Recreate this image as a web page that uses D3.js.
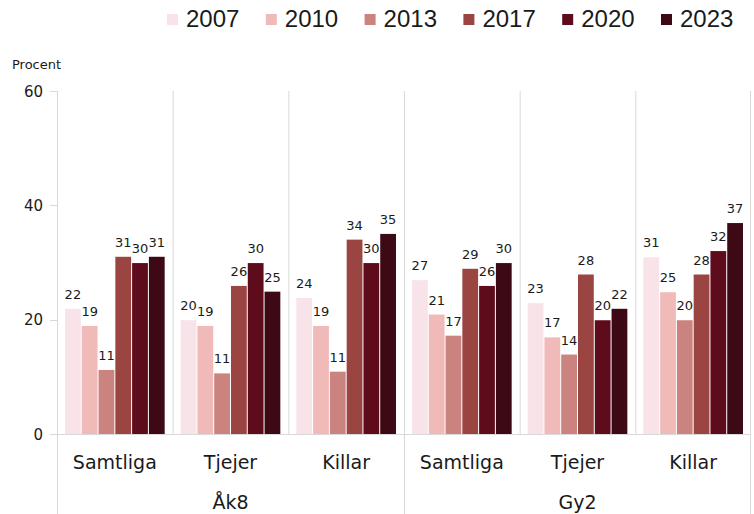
<!DOCTYPE html>
<html><head><meta charset="utf-8">
<script src="https://cdn.jsdelivr.net/npm/d3@7"></script>
<style>body{margin:0;background:#fff}svg{display:block}</style>
</head><body><svg id="c" width="754" height="514"></svg>
<script>
const years = ["2007","2010","2013","2017","2020","2023"];
const groups = ["Åk8","Gy2"];
const subcats = ["Samtliga","Tjejer","Killar"];
const colors = ["#f8e3e9","#f0bab8","#cb837f","#9b4543","#5e0c1c","#3c0914"];
const yTicks = [0,20,40,60];
// values per category (rows) and year (columns)
const akSamtliga = [21.9,18.9,11.2,31.0,29.9,31.0];
const akTjejer   = [19.9,18.9,10.6,25.9,29.9,24.9];
const akKillar   = [23.8,18.9,10.9,34.0,29.9,35.0];
const gySamtliga = [26.9,20.9,17.2,28.9,25.9,29.9];
const gyTjejer   = [22.9,16.9,13.9,27.9,19.9,21.9];
const gyKillar   = [30.9,24.8,19.9,27.9,32.0,36.9];
const seriesRows = [akSamtliga,akTjejer,akKillar,gySamtliga,gyTjejer,gyKillar];

const cats = [];
groups.forEach((g,gi)=>subcats.forEach((s,si)=>cats.push({g,s,vals:seriesRows[gi*3+si],key:g+"|"+s})));

const svg = d3.select("#c");
const L=57, R=751, T=91, B=434;
const x = d3.scaleBand().domain(cats.map(c=>c.key)).range([L,R]).padding(0);
const x1 = d3.scaleBand().domain(years).range([7.5, x.bandwidth()-7.5]).padding(0);
const y = d3.scaleLinear().domain([0,60]).range([B,T]);
const grid="#d9d9d9";

// vertical separators
cats.forEach((c,i)=>{
  if(i>0) svg.append("line").attr("x1",x(c.key)+0.5).attr("x2",x(c.key)+0.5).attr("y1",T).attr("y2",(i%3===0)?514:B).attr("stroke",grid);
});
svg.append("line").attr("x1",L+0.5).attr("x2",L+0.5).attr("y1",T).attr("y2",514).attr("stroke",grid);
svg.append("line").attr("x1",R-0.5).attr("x2",R-0.5).attr("y1",T).attr("y2",514).attr("stroke",grid);

// y axis ticks
const ya = svg.append("g");
yTicks.forEach(t=>{
  ya.append("line").attr("x1",50).attr("x2",L).attr("y1",Math.round(y(t))+0.5).attr("y2",Math.round(y(t))+0.5).attr("stroke",grid);
  ya.append("text").attr("x",43).attr("y",y(t)+5.5).attr("text-anchor","end")
    .attr("font-family","DejaVu Sans").attr("font-size",15).attr("fill","#1a1a1a").text(t);
});
svg.append("line").attr("x1",L).attr("x2",R).attr("y1",B+0.5).attr("y2",B+0.5).attr("stroke",grid);
svg.append("text").attr("x",12).attr("y",69).attr("font-family","DejaVu Sans").attr("font-size",13).attr("fill","#1a1a1a").text("Procent");

// bars
const cg = svg.selectAll("g.cat").data(cats).join("g").attr("transform",d=>`translate(${x(d.key)},0)`);
cg.selectAll("rect").data(d=>d.vals.map((v,i)=>({v,i}))).join("rect")
  .attr("x",d=>x1(years[d.i])+0.5).attr("width",x1.bandwidth()-1)
  .attr("y",d=>y(d.v)).attr("height",d=>B-y(d.v)).attr("fill",d=>colors[d.i]);
cg.selectAll("text.v").data(d=>d.vals.map((v,i)=>({v,i}))).join("text").attr("class","v")
  .attr("x",d=>x1(years[d.i])+x1.bandwidth()/2).attr("y",d=>y(d.v)-10)
  .attr("text-anchor","middle").attr("font-family","DejaVu Sans").attr("font-size",13).attr("fill","#1a1a1a")
  .text(d=>Math.round(d.v));

// category labels
cats.forEach(c=>{
  svg.append("text").attr("x",x(c.key)+x.bandwidth()/2).attr("y",469).attr("text-anchor","middle")
    .attr("font-family","DejaVu Sans").attr("font-size",19).attr("fill","#1a1a1a").text(c.s);
});
groups.forEach((g,gi)=>{
  const k0 = cats[gi*3].key, k2 = cats[gi*3+2].key;
  svg.append("text").attr("x",(x(k0)+x(k2)+x.bandwidth())/2).attr("y",509).attr("text-anchor","middle")
    .attr("font-family","DejaVu Sans").attr("font-size",19).attr("fill","#1a1a1a").text(g);
});

// legend
const lg = svg.append("g");
years.forEach((yr,i)=>{
  const lx = 167 + i*98.8;
  lg.append("rect").attr("x",lx).attr("y",14).attr("width",11).attr("height",11).attr("fill",colors[i]);
  lg.append("text").attr("x",lx+19).attr("y",27).attr("font-family","Liberation Sans, Arial, sans-serif")
    .attr("font-size",24).attr("fill","#1a1a1a").text(yr);
});
</script></body></html>
